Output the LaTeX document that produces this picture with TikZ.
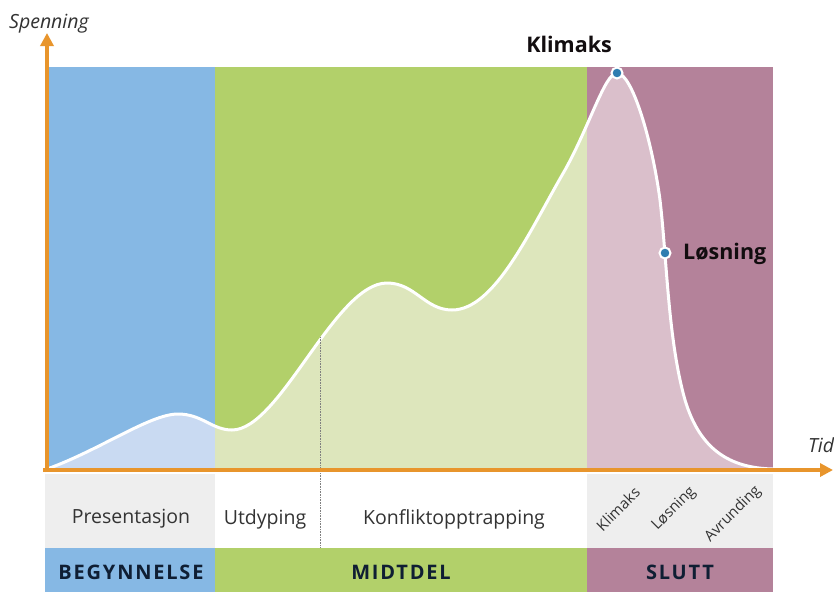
\documentclass[tikz,border=0pt]{standalone}
\usepackage{fontspec}
\setmainfont{Open Sans}
\newfontfamily\bandfont[LetterSpace=9]{Open Sans}
\usetikzlibrary{arrows.meta}
\definecolor{blueD}{HTML}{86B8E4}
\definecolor{blueL}{HTML}{C9DAF2}
\definecolor{greenD}{HTML}{B2D06A}
\definecolor{greenL}{HTML}{DDE6BC}
\definecolor{pinkD}{HTML}{B4829A}
\definecolor{pinkL}{HTML}{DABFCB}
\definecolor{rowgray}{HTML}{EEEEEE}
\definecolor{axisorange}{HTML}{E8952C}
\definecolor{dotblue}{HTML}{2F7DB0}
\definecolor{navy}{HTML}{0F1E33}
\definecolor{txt}{HTML}{333333}
\begin{document}
\begin{tikzpicture}[x=1pt,y=-1pt,
  axisline/.style={draw=axisorange,line width=4pt,-{Triangle[length=13pt,width=13pt]}},
  curveline/.style={draw=white,line width=3pt},
  phasetext/.style={text=txt,font=\fontsize{19.5}{23}\selectfont},
  diagtext/.style={text=txt,font=\fontsize{15}{18}\selectfont,rotate=45},
  bandtext/.style={text=navy,font=\bandfont\bfseries\fontsize{20}{24}\selectfont},
  pointtext/.style={text=black!90!pinkD,font=\bfseries\fontsize{21.5}{25}\selectfont},
  axistext/.style={text=txt,font=\itshape\fontsize{19.5}{23}\selectfont},
  dot/.style={circle,fill=dotblue,draw=white,line width=2pt,minimum size=11pt,inner sep=0pt}]
\useasboundingbox (0,0) rectangle (834,595);
\fill[white] (0,0) rectangle (834,595);
\def\curve{(47,469) .. controls (100,450) and (150,414) .. (178,414)
  .. controls (202,414) and (212,430) .. (232,430)
  .. controls (280,430) and (335,283) .. (387,283)
  .. controls (415,283) and (425,310) .. (452,310)
  .. controls (495,310) and (530,230) .. (565,170)
  .. controls (590,125) and (605,73) .. (617,73)
  .. controls (632,73) and (652,140) .. (660,200)
  .. controls (667,260) and (668,340) .. (685,400)
  .. controls (700,450) and (730,468) .. (773,469)}
% regions
\fill[blueD] (47,67) rectangle (215,470);
\fill[greenD] (215,67) rectangle (587,470);
\fill[pinkD] (587,67) rectangle (773,470);
\begin{scope}\clip (47,67) rectangle (215,470);
  \fill[blueL] \curve -- (47,470) -- cycle;\end{scope}
\begin{scope}\clip (215,67) rectangle (587,470);
  \fill[greenL] \curve -- (47,470) -- cycle;\end{scope}
\begin{scope}\clip (587,67) rectangle (773,470);
  \fill[pinkL] \curve -- (47,470) -- cycle;\end{scope}
\draw[curveline] \curve;
% label rows
\fill[rowgray] (45,474) rectangle (215,548);
\fill[rowgray] (587,474) rectangle (773,548);
\fill[blueD] (45,548) rectangle (215,592);
\fill[greenD] (215,548) rectangle (587,592);
\fill[pinkD] (587,548) rectangle (773,592);
% dotted line
\coordinate (dtop) at (320,337);
\coordinate (dbot) at (320,548);
\draw[densely dotted,gray,line width=0.6pt] (dtop) -- (dbot);
% axes
\coordinate (O) at (47,472);
\coordinate (ytip) at (47,33);
\coordinate (xstart) at (43,470);
\coordinate (xtip) at (833,470);
\draw[axisline] (O) -- (ytip);
\draw[axisline] (xstart) -- (xtip);
\node[axistext,anchor=base west,inner sep=0pt] (spenning) at (9,28) {Spenning};
\node[axistext,anchor=base west,inner sep=0pt] (tid) at (808,452) {Tid};
% points
\node[dot] (klimaksdot) at (617,73) {};
\node[dot] (losningdot) at (665,253) {};
\node[pointtext,anchor=base east,inner sep=0pt] (klimaks) at (612,52) {Klimaks};
\node[pointtext,anchor=base west,inner sep=0pt] (losning) at (683,259) {Løsning};
% phase labels
\node[phasetext] (presentasjon) at (131,519) {Presentasjon};
\node[phasetext] (utdyping) at (265,519) {Utdyping};
\node[phasetext] (konflikt) at (454,519) {Konfliktopptrapping};
\node[diagtext,inner sep=0pt] (klimaksd) at (618,509) {Klimaks};
\node[diagtext,inner sep=0pt] (losningd) at (674,509) {Løsning};
\node[diagtext,inner sep=0pt] (avrunding) at (733,514) {Avrunding};
% band labels
\node[bandtext] (begynnelse) at (131,572) {BEGYNNELSE};
\node[bandtext] (midtdel) at (401,572) {MIDTDEL};
\node[bandtext] (slutt) at (680,572) {SLUTT};
\end{tikzpicture}
\end{document}
